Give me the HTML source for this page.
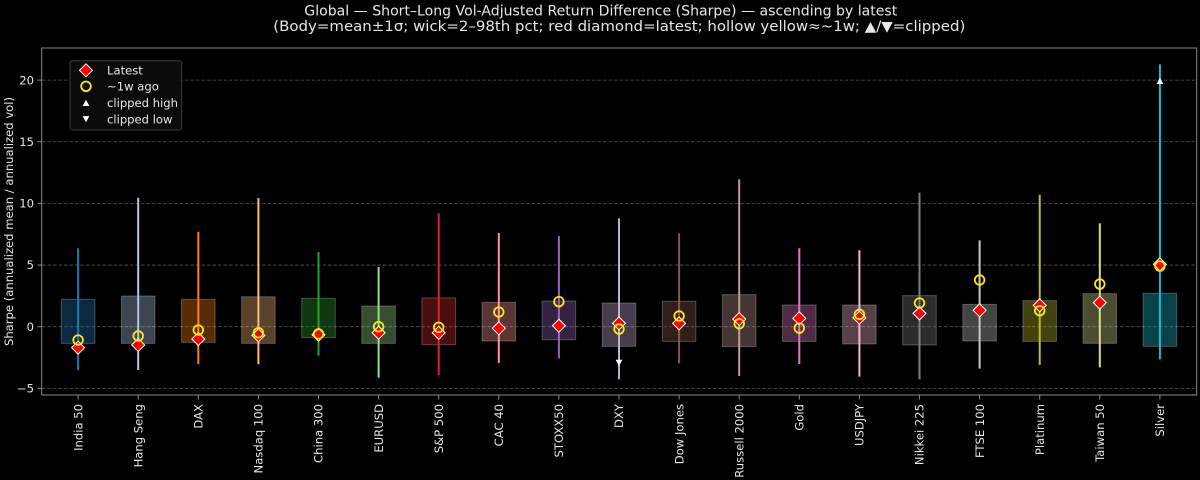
<!DOCTYPE html>
<html><head><meta charset="utf-8"><style>
html,body{margin:0;padding:0;background:#000;width:1200px;height:480px;overflow:hidden}
svg{display:block}
text{font-family:"DejaVu Sans","Liberation Sans",sans-serif;fill:#e6e6e6}
</style></head><body>
<svg width="1200" height="480" viewBox="0 0 1200 480" xmlns="http://www.w3.org/2000/svg">
<rect width="1200" height="480" fill="#000"/>
<!-- title -->
<text x="304.3" y="15.3" font-size="14" textLength="593" lengthAdjust="spacingAndGlyphs">Global — Short–Long Vol-Adjusted Return Difference (Sharpe) — ascending by latest</text>
<text x="273.3" y="31" font-size="14" textLength="692" lengthAdjust="spacingAndGlyphs">(Body=mean±1σ; wick=2–98th pct; red diamond=latest; hollow yellow≈~1w; ▲/▼=clipped)</text>
<!-- grid -->
<g stroke="#555" stroke-width="0.8" stroke-dasharray="3.5 2">
<line x1="42" x2="1196.7" y1="80.1" y2="80.1"/>
<line x1="42" x2="1196.7" y1="141.75" y2="141.75"/>
<line x1="42" x2="1196.7" y1="203.4" y2="203.4"/>
<line x1="42" x2="1196.7" y1="265.05" y2="265.05"/>
<line x1="42" x2="1196.7" y1="326.7" y2="326.7"/>
<line x1="42" x2="1196.7" y1="388.35" y2="388.35"/>
</g>
<!-- boxes -->
<g stroke="rgba(255,255,255,0.25)" stroke-width="1">
<rect x="61.35" y="299.33" width="33.5" height="44.02" fill="#1f77b4" fill-opacity="0.35"/>
<rect x="121.45" y="296.0" width="33.5" height="47.35" fill="#aec7e8" fill-opacity="0.35"/>
<rect x="181.55" y="299.33" width="33.5" height="43.03" fill="#ff7f0e" fill-opacity="0.35"/>
<rect x="241.65" y="296.74" width="33.5" height="46.61" fill="#ffbb78" fill-opacity="0.35"/>
<rect x="301.75" y="298.34" width="33.5" height="39.33" fill="#2ca02c" fill-opacity="0.35"/>
<rect x="361.85" y="305.99" width="33.5" height="37.36" fill="#98df8a" fill-opacity="0.35"/>
<rect x="421.95" y="297.97" width="33.5" height="46.73" fill="#d62728" fill-opacity="0.35"/>
<rect x="482.05" y="302.29" width="33.5" height="38.71" fill="#ff9896" fill-opacity="0.35"/>
<rect x="542.15" y="301.05" width="33.5" height="38.6" fill="#9467bd" fill-opacity="0.35"/>
<rect x="602.25" y="303.03" width="33.5" height="43.27" fill="#c5b0d5" fill-opacity="0.35"/>
<rect x="662.35" y="301.30" width="33.5" height="40.07" fill="#8c564b" fill-opacity="0.35"/>
<rect x="722.45" y="294.64" width="33.5" height="52.03" fill="#c49c94" fill-opacity="0.35"/>
<rect x="782.55" y="305.0" width="33.5" height="36.37" fill="#e377c2" fill-opacity="0.35"/>
<rect x="842.65" y="305.0" width="33.5" height="38.96" fill="#f7b6d2" fill-opacity="0.35"/>
<rect x="902.75" y="295.63" width="33.5" height="49.32" fill="#7f7f7f" fill-opacity="0.35"/>
<rect x="962.85" y="304.38" width="33.5" height="36.62" fill="#c7c7c7" fill-opacity="0.35"/>
<rect x="1022.95" y="300.68" width="33.5" height="40.69" fill="#bcbd22" fill-opacity="0.35"/>
<rect x="1083.05" y="293.66" width="33.5" height="49.69" fill="#dbdb8d" fill-opacity="0.35"/>
<rect x="1143.15" y="293.29" width="33.5" height="53.01" fill="#17becf" fill-opacity="0.35"/>
</g>
<!-- wicks -->
<g stroke-width="2">
<line x1="78.1" x2="78.1" y1="248.28" y2="369.98" stroke="#1f77b4"/>
<line x1="138.2" x2="138.2" y1="197.73" y2="369.98" stroke="#aec7e8"/>
<line x1="198.3" x2="198.3" y1="231.76" y2="364.06" stroke="#ff7f0e"/>
<line x1="258.4" x2="258.4" y1="198.1" y2="364.31" stroke="#ffbb78"/>
<line x1="318.5" x2="318.5" y1="251.98" y2="355.68" stroke="#2ca02c"/>
<line x1="378.6" x2="378.6" y1="267.02" y2="377.62" stroke="#98df8a"/>
<line x1="438.7" x2="438.7" y1="213.26" y2="375.28" stroke="#d62728"/>
<line x1="498.8" x2="498.8" y1="232.99" y2="362.95" stroke="#ff9896"/>
<line x1="558.9" x2="558.9" y1="235.95" y2="358.39" stroke="#9467bd"/>
<line x1="619.0" x2="619.0" y1="218.32" y2="379.35" stroke="#c5b0d5"/>
<line x1="679.1" x2="679.1" y1="233.36" y2="363.32" stroke="#8c564b"/>
<line x1="739.2" x2="739.2" y1="179.36" y2="376.02" stroke="#c49c94"/>
<line x1="799.3" x2="799.3" y1="248.28" y2="364.06" stroke="#e377c2"/>
<line x1="859.4" x2="859.4" y1="250.25" y2="376.64" stroke="#f7b6d2"/>
<line x1="919.5" x2="919.5" y1="192.67" y2="379.35" stroke="#7f7f7f"/>
<line x1="979.6" x2="979.6" y1="240.39" y2="368.62" stroke="#c7c7c7"/>
<line x1="1039.7" x2="1039.7" y1="194.77" y2="364.92" stroke="#bcbd22"/>
<line x1="1099.8" x2="1099.8" y1="223.37" y2="367.39" stroke="#dbdb8d"/>
<line x1="1159.9" x2="1159.9" y1="64.32" y2="359.37" stroke="#17becf"/>
</g>
<!-- clipped markers -->
<path d="M1159.9,77.8 L1163.3,84 L1156.5,84 Z" fill="#fff"/>
<path d="M619,366 L622.4,359.8 L615.6,359.8 Z" fill="#fff"/>
<!-- latest diamonds -->
<g fill="#ff0000" stroke="#fff" stroke-width="1">
<path d="M78.1,341.16 L84.6,347.66 L78.1,354.16 L71.6,347.66 Z"/>
<path d="M138.2,338.45 L144.7,344.95 L138.2,351.45 L131.7,344.95 Z"/>
<path d="M198.3,332.53 L204.8,339.03 L198.3,345.53 L191.8,339.03 Z"/>
<path d="M258.4,328.83 L264.9,335.33 L258.4,341.83 L251.9,335.33 Z"/>
<path d="M318.5,328.21 L325,334.71 L318.5,341.21 L312,334.71 Z"/>
<path d="M378.6,326.24 L385.1,332.74 L378.6,339.24 L372.1,332.74 Z"/>
<path d="M438.7,326.24 L445.2,332.74 L438.7,339.24 L432.2,332.74 Z"/>
<path d="M498.8,321.8 L505.3,328.3 L498.8,334.8 L492.3,328.3 Z"/>
<path d="M558.9,319.21 L565.4,325.71 L558.9,332.21 L552.4,325.71 Z"/>
<path d="M619,316.87 L625.5,323.37 L619,329.87 L612.5,323.37 Z"/>
<path d="M679.1,316.87 L685.6,323.37 L679.1,329.87 L672.6,323.37 Z"/>
<path d="M739.2,312.56 L745.7,319.06 L739.2,325.56 L732.7,319.06 Z"/>
<path d="M799.3,311.82 L805.8,318.32 L799.3,324.82 L792.8,318.32 Z"/>
<path d="M859.4,311.2 L865.9,317.7 L859.4,324.2 L852.9,317.7 Z"/>
<path d="M919.5,306.88 L926,313.38 L919.5,319.88 L913,313.38 Z"/>
<path d="M979.6,303.8 L986.1,310.3 L979.6,316.8 L973.1,310.3 Z"/>
<path d="M1039.7,298.87 L1046.2,305.37 L1039.7,311.87 L1033.2,305.37 Z"/>
<path d="M1099.8,296.16 L1106.3,302.66 L1099.8,309.16 L1093.3,302.66 Z"/>
<path d="M1159.9,257.81 L1166.4,264.31 L1159.9,270.81 L1153.4,264.31 Z"/>
</g>
<!-- week-ago circles -->
<g fill="none" stroke="#ffea00" stroke-width="1.8">
<circle cx="78.1" cy="340.02" r="4.8"/>
<circle cx="138.2" cy="335.95" r="4.8"/>
<circle cx="198.3" cy="330.03" r="4.8"/>
<circle cx="258.4" cy="332.74" r="4.8"/>
<circle cx="318.5" cy="333.97" r="4.8"/>
<circle cx="378.6" cy="326.7" r="4.8"/>
<circle cx="438.7" cy="327.32" r="4.8"/>
<circle cx="498.8" cy="312.03" r="4.8"/>
<circle cx="558.9" cy="301.67" r="4.8"/>
<circle cx="619" cy="329.04" r="4.8"/>
<circle cx="679.1" cy="315.97" r="4.8"/>
<circle cx="739.2" cy="323.74" r="4.8"/>
<circle cx="799.3" cy="328.06" r="4.8"/>
<circle cx="859.4" cy="314.37" r="4.8"/>
<circle cx="919.5" cy="303.03" r="4.8"/>
<circle cx="979.6" cy="279.97" r="4.8"/>
<circle cx="1039.7" cy="310.67" r="4.8"/>
<circle cx="1099.8" cy="284.04" r="4.8"/>
<circle cx="1159.9" cy="266.04" r="4.8"/>
</g>
<!-- spines -->
<rect x="41.7" y="48" width="1155" height="347" fill="none" stroke="#8c8c8c" stroke-width="1"/>
<!-- y ticks -->
<g stroke="#8c8c8c" stroke-width="1">
<line x1="37.5" x2="41.7" y1="80.1" y2="80.1"/>
<line x1="37.5" x2="41.7" y1="141.75" y2="141.75"/>
<line x1="37.5" x2="41.7" y1="203.4" y2="203.4"/>
<line x1="37.5" x2="41.7" y1="265.05" y2="265.05"/>
<line x1="37.5" x2="41.7" y1="326.7" y2="326.7"/>
<line x1="37.5" x2="41.7" y1="388.35" y2="388.35"/>
</g>
<g font-size="11.6" text-anchor="end">
<text x="34" y="84.3">20</text>
<text x="34" y="145.9">15</text>
<text x="34" y="207.6">10</text>
<text x="34" y="269.2">5</text>
<text x="34" y="330.9">0</text>
<text x="34" y="392.5">−5</text>
</g>
<text transform="translate(12.8,221.5) rotate(-90)" font-size="11.6" text-anchor="middle">Sharpe (annualized mean / annualized vol)</text>
<!-- x ticks -->
<g stroke="#8c8c8c" stroke-width="1">
<line x1="78.1" x2="78.1" y1="395" y2="399.5"/><line x1="138.2" x2="138.2" y1="395" y2="399.5"/><line x1="198.3" x2="198.3" y1="395" y2="399.5"/><line x1="258.4" x2="258.4" y1="395" y2="399.5"/><line x1="318.5" x2="318.5" y1="395" y2="399.5"/><line x1="378.6" x2="378.6" y1="395" y2="399.5"/><line x1="438.7" x2="438.7" y1="395" y2="399.5"/><line x1="498.8" x2="498.8" y1="395" y2="399.5"/><line x1="558.9" x2="558.9" y1="395" y2="399.5"/><line x1="619" x2="619" y1="395" y2="399.5"/><line x1="679.1" x2="679.1" y1="395" y2="399.5"/><line x1="739.2" x2="739.2" y1="395" y2="399.5"/><line x1="799.3" x2="799.3" y1="395" y2="399.5"/><line x1="859.4" x2="859.4" y1="395" y2="399.5"/><line x1="919.5" x2="919.5" y1="395" y2="399.5"/><line x1="979.6" x2="979.6" y1="395" y2="399.5"/><line x1="1039.7" x2="1039.7" y1="395" y2="399.5"/><line x1="1099.8" x2="1099.8" y1="395" y2="399.5"/><line x1="1159.9" x2="1159.9" y1="395" y2="399.5"/>
</g>
<g font-size="11.6" text-anchor="end">
<text transform="translate(82.3,404) rotate(-90)">India 50</text>
<text transform="translate(142.4,404) rotate(-90)">Hang Seng</text>
<text transform="translate(202.5,404) rotate(-90)">DAX</text>
<text transform="translate(262.6,404) rotate(-90)">Nasdaq 100</text>
<text transform="translate(322.7,404) rotate(-90)">China 300</text>
<text transform="translate(382.8,404) rotate(-90)">EURUSD</text>
<text transform="translate(442.9,404) rotate(-90)">S&amp;P 500</text>
<text transform="translate(503,404) rotate(-90)">CAC 40</text>
<text transform="translate(563.1,404) rotate(-90)">STOXX50</text>
<text transform="translate(623.2,404) rotate(-90)">DXY</text>
<text transform="translate(683.3,404) rotate(-90)">Dow Jones</text>
<text transform="translate(743.4,404) rotate(-90)">Russell 2000</text>
<text transform="translate(803.5,404) rotate(-90)">Gold</text>
<text transform="translate(863.6,404) rotate(-90)">USDJPY</text>
<text transform="translate(923.7,404) rotate(-90)">Nikkei 225</text>
<text transform="translate(983.8,404) rotate(-90)">FTSE 100</text>
<text transform="translate(1043.9,404) rotate(-90)">Platinum</text>
<text transform="translate(1104,404) rotate(-90)">Taiwan 50</text>
<text transform="translate(1164.1,404) rotate(-90)">Silver</text>
</g>
<!-- legend -->
<rect x="70" y="60.7" width="111.7" height="69.3" rx="2.5" fill="#0b0b0b" stroke="#3c3c3c" stroke-width="1"/>
<path d="M86,63.8 L92.5,70.3 L86,76.8 L79.5,70.3 Z" fill="#ff0000" stroke="#fff" stroke-width="1"/>
<circle cx="86" cy="86.3" r="4.8" fill="none" stroke="#ffea00" stroke-width="1.8"/>
<path d="M86,99.8 L89.4,106 L82.6,106 Z" fill="#fff"/>
<path d="M86,122.3 L89.4,116.1 L82.6,116.1 Z" fill="#fff"/>
<g font-size="11.6">
<text x="107" y="74.4">Latest</text>
<text x="107" y="90.6">~1w ago</text>
<text x="107" y="107">clipped high</text>
<text x="107" y="123.5">clipped low</text>
</g>
</svg>
</body></html>
